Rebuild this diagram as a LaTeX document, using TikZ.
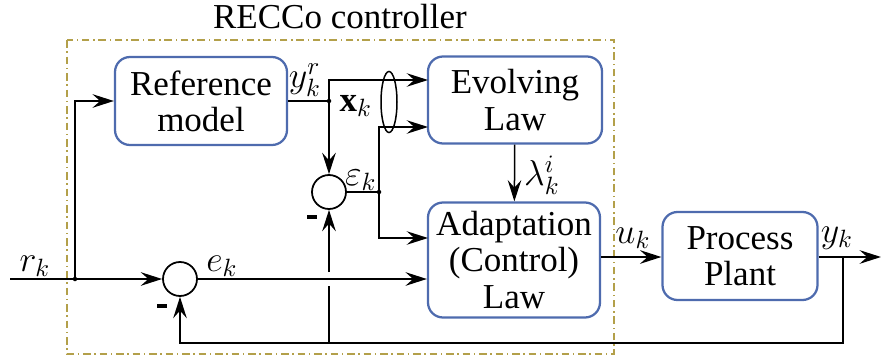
\documentclass[tikz,border=0pt]{standalone}
\usepackage{fontspec}
\setmainfont{Liberation Serif}
\usetikzlibrary{arrows.meta, positioning, shapes.geometric, calc}
\definecolor{BoxBlue}{HTML}{4E6BAE}
\definecolor{CtrlGold}{HTML}{B3A04A}

\begin{document}
\begin{tikzpicture}[
            x=0.4pt, y=-0.4pt,
            font=\fontsize{14}{14.5}\selectfont,
            >={Stealth[length=8.5pt,width=5.4pt,inset=3pt]},
            line/.style={draw, line width=1.15pt, ->},
            thinline/.style={draw, line width=0.6pt},
            thinarrow/.style={draw, line width=0.6pt, ->},
            block/.style={
                rectangle, rounded corners=6pt,
                draw=BoxBlue, line width=0.9pt, fill=white,
                align=center, inner sep=1pt
            },
            sum/.style={circle, draw, line width=0.7pt, minimum size=13.6pt, inner sep=0pt},
            sig/.style={inner sep=0.5pt},
            minus/.style={inner sep=0pt}
        ]
        \useasboundingbox (0,0) rectangle (881,360);

        % --- Controller frame ---
        \draw[CtrlGold, line width=0.8pt, dash pattern=on 3pt off 1.5pt on 0.6pt off 1.5pt] (67,40) rectangle (614,354);
        \node (title) at (340,17) {RECCo controller};

        % --- Blocks ---
        \node[block, minimum width=68.8pt, minimum height=35.2pt] (ref) at (201,101) {Reference\\model};
        \node[block, minimum width=69.6pt, minimum height=34.8pt] (evolve) at (515,100) {Evolving\\Law};
        \node[block, minimum width=68.8pt, minimum height=46pt] (adapt) at (514,260) {Adaptation\\(Control)\\Law};
        \node[block, minimum width=62pt, minimum height=35.2pt] (plant) at (740,256) {Process\\Plant};
        \node[sum] (sum1) at (180,279) {};
        \node[sum] (sum2) at (329,192) {};
        \node[draw, ellipse, line width=0.6pt, minimum width=6.4pt, minimum height=24.4pt, inner sep=0pt] (xgroup) at (389,102) {};

        % --- Points ---
        \coordinate (rstart) at (10,279);
        \coordinate (rin) at (75,279);
        \coordinate (yref) at (329,101);
        \coordinate (xa) at (428,80);
        \coordinate (xb) at (428,127);
        \coordinate (ejunc) at (379,192);
        \coordinate (ain) at (428,238);
        \coordinate (yout) at (843,257);
        \coordinate (yend) at (881,257);
        \coordinate (fb) at (843,343);

        % --- Flows ---
        \path[line] (rstart) -- (sum1);
        \path[line] (rin) |- (ref);
        \path[line] (sum1) -- (adapt.west |- sum1);
        \path[thinline] (ref) -- (yref);
        \path[thinarrow] (yref) |- (xa);
        \path[line] (yref) -- (sum2);
        \path[thinline] (sum2) -- (ejunc);
        \path[thinarrow] (ejunc) |- (xb);
        \path[thinarrow] (ejunc) |- (ain);
        \path[thinarrow] (evolve) -- (adapt);
        \path[line] (adapt.east |- yout) -- (plant.west |- yout);
        \path[line] (plant.east |- yout) -- (yend);

        % --- Feedback ---
        \path[draw, line width=0.85pt, ->] (yout) -- (fb) -- (sum1 |- fb) -- (sum1);
        \path[draw, line width=1.15pt] (sum2 |- fb) -- ($(sum2 |- rin)+(0,7)$);
        \path[line] ($(sum2 |- rin)+(0,-7)$) -- (sum2);

        \foreach \p in {rin, yref, ejunc}
            \fill (\p) circle (0.9pt);

        % --- Signal labels ---
        \node[sig] (rk) at (35,266) {$r_k$};
        \node[sig] (ek) at (222,266) {$e_k$};
        \node[sig] (yrk) at (305,80) {$y_k^r$};
        \node[sig] (xk) at (356,106) {$\mathbf{x}_k$};
        \node[sig] (epsk) at (361,180) {$\varepsilon_k$};
        \node[sig] (lamk) at (542,175) {$\lambda_k^i$};
        \node[sig] (uk) at (633,238) {$u_k$};
        \node[sig] (yk) at (837,238) {$y_k$};
        \node[minus] (m1) at (162,306) {\rule{4pt}{1.4pt}};
        \node[minus] (m2) at (312,217) {\rule{4pt}{1.4pt}};

        \end{tikzpicture}
\end{document}
